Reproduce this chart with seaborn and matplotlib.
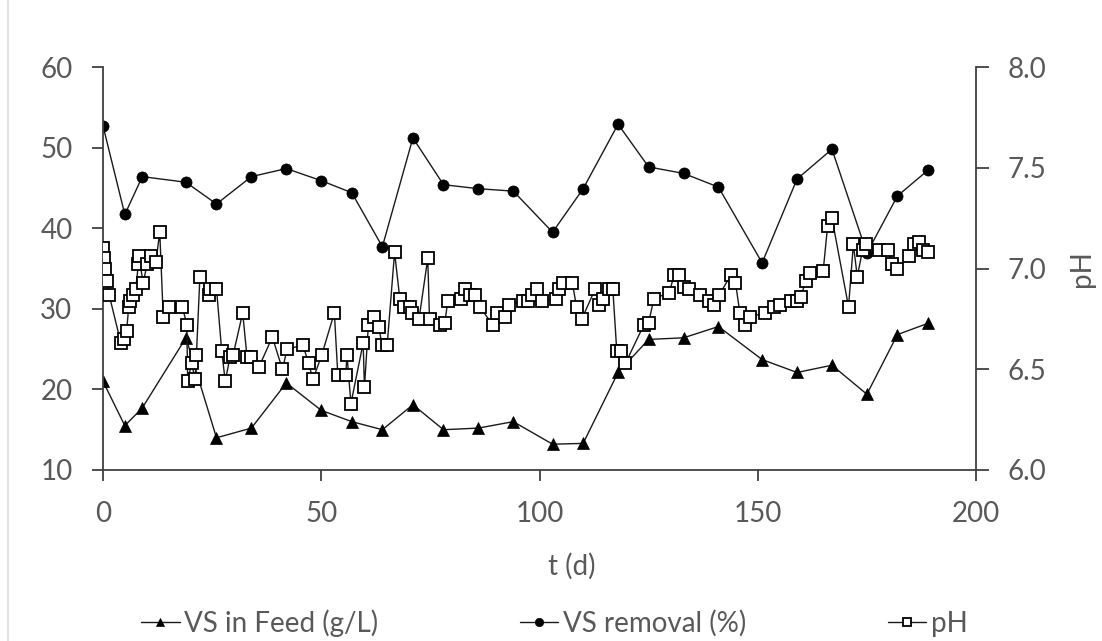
import matplotlib
matplotlib.use("Agg")
import matplotlib.pyplot as plt
import seaborn as sns
import pandas as pd
from matplotlib.lines import Line2D

# ---------------- data ----------------
t_weekly = [0, 5, 9, 19, 26, 34, 42, 50, 57, 64, 71, 78, 86, 94, 103, 110,
            118, 125, 133, 141, 151, 159, 167, 175, 182, 189]
vs_feed = [21.0, 15.5, 17.7, 26.4, 14.0, 15.2, 20.8, 17.4, 16.0, 15.0, 18.1,
           15.0, 15.2, 16.0, 13.2, 13.3, 22.1, 26.2, 26.4, 27.8, 23.7, 22.1,
           23.0, 19.4, 26.8, 28.2]
vs_removal = [52.7, 41.7, 46.4, 45.7, 43.0, 46.4, 47.4, 45.9, 44.4, 37.7, 51.2,
              45.4, 44.9, 44.6, 39.5, 44.9, 52.9, 47.6, 46.8, 45.1, 35.7, 46.1,
              49.8, 36.9, 44.0, 47.2]

t_ph = [0, 0.2, 0.5, 1.0, 1.4, 4.1, 4.9, 5.4, 5.9, 6.3,
        6.9, 7.5, 8.1, 8.2, 9.2, 10.1, 11.0, 12.1, 13.0, 13.8,
        15.2, 18.2, 19.2, 19.4, 20.3, 21.1, 21.4, 22.2, 24.3, 24.5,
        26.0, 27.2, 28.0, 29.1, 29.8, 32.0, 33.0, 34.0, 35.7, 38.8,
        41.1, 42.2, 45.8, 47.1, 48.1, 50.1, 53.0, 53.8, 55.6, 55.9,
        56.8, 59.6, 59.9, 60.8, 62.0, 63.2, 63.9, 65.1, 66.8, 68.0,
        68.9, 70.3, 70.9, 72.4, 74.4, 74.8, 77.1, 78.3, 79.0, 82.1,
        83.0, 84.1, 85.3, 86.3, 89.3, 90.2, 92.1, 93.1, 96.2, 97.3,
        98.3, 99.4, 100.6, 103.7, 104.4, 105.3, 107.5, 108.5, 109.7, 112.8,
        113.7, 114.6, 116.0, 116.8, 117.7, 118.7, 119.7, 123.9, 125.0, 126.2,
        129.7, 130.9, 132.0, 133.2, 134.2, 136.8, 138.9, 140.0, 141.2, 143.9,
        144.9, 145.9, 147.1, 148.2, 151.7, 153.8, 155.1, 157.6, 158.9, 159.9,
        161.0, 162.0, 165.0, 166.0, 167.0, 170.8, 171.9, 172.8, 174.0, 174.9,
        177.8, 179.9, 180.8, 182.0, 184.7, 185.8, 187.0, 187.9, 189.0]
ph = [7.10, 7.05, 7.00, 6.94, 6.87, 6.63, 6.65, 6.69, 6.81, 6.84,
      6.87, 6.90, 7.02, 7.06, 6.93, 7.02, 7.06, 7.03, 7.18, 6.76,
      6.81, 6.81, 6.72, 6.44, 6.53, 6.45, 6.57, 6.96, 6.87, 6.90,
      6.90, 6.59, 6.44, 6.56, 6.57, 6.78, 6.56, 6.56, 6.51, 6.66,
      6.50, 6.60, 6.62, 6.53, 6.45, 6.57, 6.78, 6.47, 6.47, 6.57,
      6.33, 6.63, 6.41, 6.72, 6.76, 6.71, 6.62, 6.62, 7.08, 6.85,
      6.81, 6.81, 6.78, 6.75, 7.05, 6.75, 6.72, 6.73, 6.84, 6.85,
      6.90, 6.87, 6.87, 6.81, 6.72, 6.78, 6.76, 6.82, 6.84, 6.84,
      6.87, 6.90, 6.84, 6.85, 6.90, 6.93, 6.93, 6.81, 6.75, 6.90,
      6.82, 6.85, 6.90, 6.90, 6.59, 6.59, 6.53, 6.72, 6.73, 6.85,
      6.88, 6.97, 6.97, 6.91, 6.90, 6.87, 6.84, 6.82, 6.87, 6.97,
      6.93, 6.78, 6.72, 6.76, 6.78, 6.81, 6.82, 6.84, 6.84, 6.86,
      6.94, 6.98, 6.99, 7.21, 7.25, 6.81, 7.12, 6.96, 7.09, 7.12,
      7.09, 7.09, 7.02, 7.00, 7.06, 7.12, 7.13, 7.09, 7.08]

x_ticks = [0, 50, 100, 150, 200]
y_left_ticks = [10, 20, 30, 40, 50, 60]
y_right_ticks = [6.0, 6.5, 7.0, 7.5, 8.0]
labels = ["VS in Feed (g/L)", "VS removal (%)", "pH"]

# ---------------- style ----------------
sns.set_style("white")
plt.rcParams["font.family"] = ["Lato", "DejaVu Sans"]
TXT = "#595959"
SPINE = "#404040"
FS = 20

df_w = pd.DataFrame({"t": t_weekly, "feed": vs_feed, "rem": vs_removal})
df_p = pd.DataFrame({"t": t_ph, "ph": ph})

fig = plt.figure(figsize=(11.02, 6.41), dpi=100)
ax = fig.add_axes([103 / 1102, 1 - 470 / 641, (976 - 103) / 1102, (470 - 67) / 641])
ax2 = ax.twinx()

line_kw = dict(color="#1a1a1a", linewidth=1.0, estimator=None, legend=False)
sns.lineplot(data=df_w, x="t", y="feed", ax=ax, marker="^", markersize=8,
             markerfacecolor="black", markeredgecolor="black", markeredgewidth=0.5,
             **line_kw)
h1 = ax.lines[-1]
sns.lineplot(data=df_w, x="t", y="rem", ax=ax, marker="o", markersize=8,
             markerfacecolor="black", markeredgecolor="black", markeredgewidth=0.5,
             **line_kw)
h2 = ax.lines[-1]
sns.lineplot(data=df_p, x="t", y="ph", ax=ax2, marker="s", markersize=8.5,
             markerfacecolor="white", markeredgecolor="black", markeredgewidth=1.3,
             **line_kw)
h3 = ax2.lines[-1]

ax.set_xlim(0, 200)
ax.set_ylim(10, 60)
ax2.set_ylim(6.0, 8.0)
ax.set_xticks(x_ticks)
ax.set_yticks(y_left_ticks)
ax2.set_yticks(y_right_ticks)
ax2.set_yticklabels([f"{v:.1f}" for v in y_right_ticks])

for a in (ax, ax2):
    a.spines["top"].set_visible(False)
ax.spines["right"].set_visible(False)
ax2.spines["left"].set_visible(False)
ax2.spines["bottom"].set_visible(False)
for s in ("left", "bottom"):
    ax.spines[s].set_color(SPINE)
    ax.spines[s].set_linewidth(1.3)
ax2.spines["right"].set_color(SPINE)
ax2.spines["right"].set_linewidth(1.3)

ax.tick_params(axis="both", direction="out", length=8, width=1.3, color=SPINE,
               labelsize=FS, labelcolor=TXT, pad=14, left=True, bottom=True)
ax2.tick_params(axis="y", direction="out", length=9, width=1.3, color=SPINE,
                labelsize=FS, labelcolor=TXT, pad=14, right=True)

ax.set_xlabel("t (d)", fontsize=FS, color=TXT)
ax.xaxis.set_label_coords((572 - 103) / 873, -0.205)
ax.set_ylabel("")
ax2.set_ylabel("pH", fontsize=FS, color=TXT, rotation=90, labelpad=16)

leg = fig.legend([h1, h2, h3], labels, loc="center", bbox_to_anchor=(554 / 1102, 1 - 623 / 641),
                 ncol=3, frameon=False, fontsize=FS, handlelength=1.4, handletextpad=0.15,
                 columnspacing=5.1, labelcolor=TXT, markerscale=0.75)

fig.add_artist(Line2D([8 / 1102, 8 / 1102], [0, 1], transform=fig.transFigure,
                      color="#d9d9d9", linewidth=1.2))

fig.savefig("out.png", dpi=100)
